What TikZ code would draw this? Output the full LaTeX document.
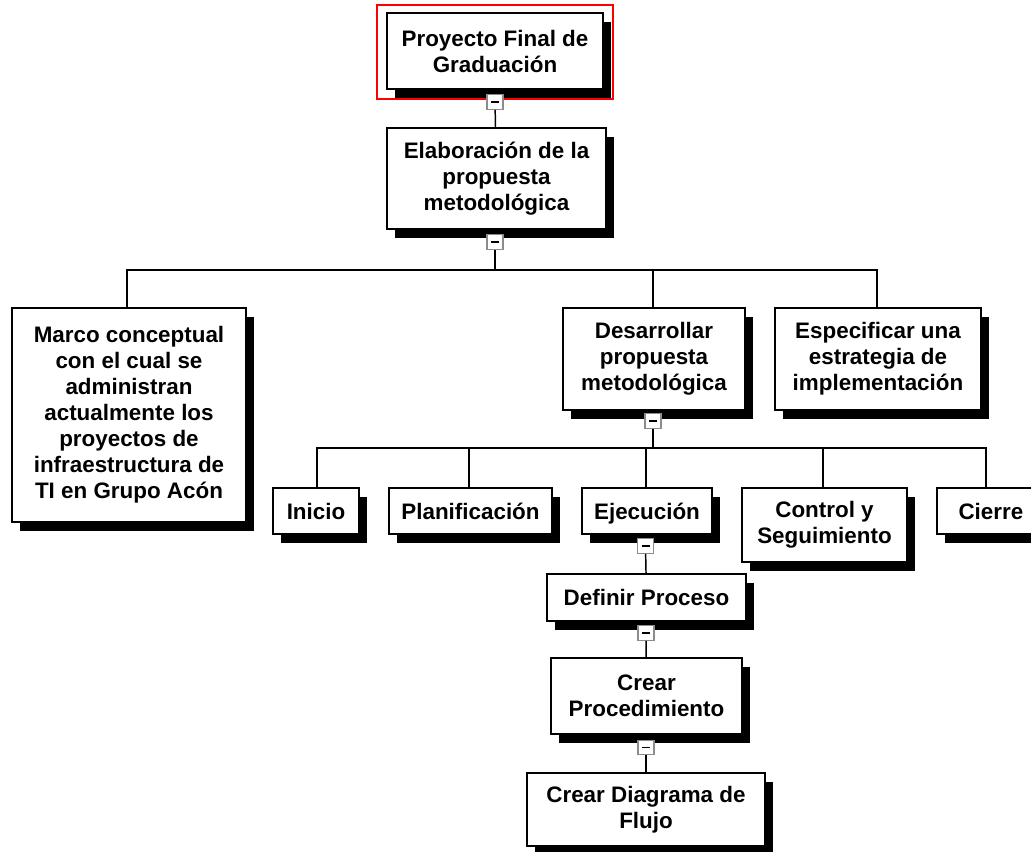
\documentclass[tikz,border=0pt]{standalone}
\usepackage{fontspec}
\setmainfont{Liberation Sans}
\usetikzlibrary{shadows}
\begin{document}
\begin{tikzpicture}[x=0.75pt,y=-0.75pt,
  wbs/.style={draw=black, line width=0.8pt, fill=white, inner sep=0pt, align=center,
    font=\fontsize{16.8}{19.5}\selectfont\bfseries,
    drop shadow={shadow xshift=6pt, shadow yshift=-6.5pt, fill=black, opacity=1}},
  sz/.style 2 args={minimum width=#1*0.75pt, minimum height=#2*0.75pt},
  toggle/.style={draw=black!45, line width=0.8pt, fill=white, inner sep=0pt,
    minimum width=12pt, minimum height=11pt,
    path picture={\draw[black, line width=1.3pt]
      ([xshift=-3pt]path picture bounding box.center) -- ([xshift=3pt]path picture bounding box.center);}},
  link/.style={draw=black, line width=1.1pt}]
\useasboundingbox (0,0) rectangle (1031,852);

% nodes of the breakdown structure
\node[wbs, sz={216}{76}]  (top)    at (495,51)    {Proyecto Final de\\Graduación};
\node[wbs, sz={219}{101}] (elab)   at (496.5,178.5) {Elaboración de la\\propuesta\\metodológica};
\node[wbs, sz={234}{214}] (marco)  at (129,415)   {Marco conceptual\\con el cual se\\administran\\actualmente los\\proyectos de\\infraestructura de\\TI en Grupo Acón};
\node[wbs, sz={182}{102}] (desa)   at (654,359)   {Desarrollar\\propuesta\\metodológica};
\node[wbs, sz={206}{102}] (espec)  at (878,359)   {Especificar una\\estrategia de\\implementación};
\node[wbs, sz={86}{46}]   (inicio) at (316,511)   {Inicio};
\node[wbs, sz={163}{46}]  (plan)   at (470.5,511) {Planificación};
\node[wbs, sz={130}{46}, text depth=0pt] (ejec) at (647,511) {Ejecución};
\node[wbs, sz={165}{74}]  (ctrl)   at (824.5,525) {Control y\\Seguimiento};
\node[wbs, sz={103}{46}, text width=60*0.75pt, align=left] (cierre) at (988.5,511) {Cierre};
\node[wbs, sz={199}{47}]  (defin)  at (646.5,597.5) {Definir Proceso};
\node[wbs, sz={191}{76}]  (proc)   at (646.5,696) {Crear\\Procedimiento};
\node[wbs, sz={238}{73}]  (diag)   at (646,809.5) {Crear Diagrama de\\Flujo};

% selection frame around the root
\draw[red, line width=1pt] (377,5) rectangle (613,99);

% collapse toggles
\node[toggle] (t1) at (495,102)   {};
\node[toggle] (t2) at (495,242)   {};
\node[toggle] (t3) at (653,421)   {};
\node[toggle] (t4) at (645.5,546) {};
\node[toggle] (t5) at (646,633)   {};
\node[toggle] (t6) at (646,747.5) {};

% bus junctions
\coordinate (j1) at (495,270);
\coordinate (j2) at (653,448);

% connectors
\draw[link] (t1) -- (elab);
\draw[link] (t2) -- (j1);
\draw[link] (j1) -| (marco.north -| 127,0);
\draw[link] (j1) -| (desa.north -| 653,0);
\draw[link] (j1) -| (espec.north -| 877,0);
\draw[link] (t3) -- (j2);
\draw[link] (j2) -| (inicio.north -| 317,0);
\draw[link] (j2) -| (plan.north -| 469,0);
\draw[link] (j2) -| (ejec.north -| 646,0);
\draw[link] (j2) -| (ctrl.north -| 823,0);
\draw[link] (j2) -| (cierre.north -| 986,0);
\draw[link] (t4) -- (defin);
\draw[link] (t5) -- (proc);
\draw[link] (t6) -- (diag);
\end{tikzpicture}
\end{document}
